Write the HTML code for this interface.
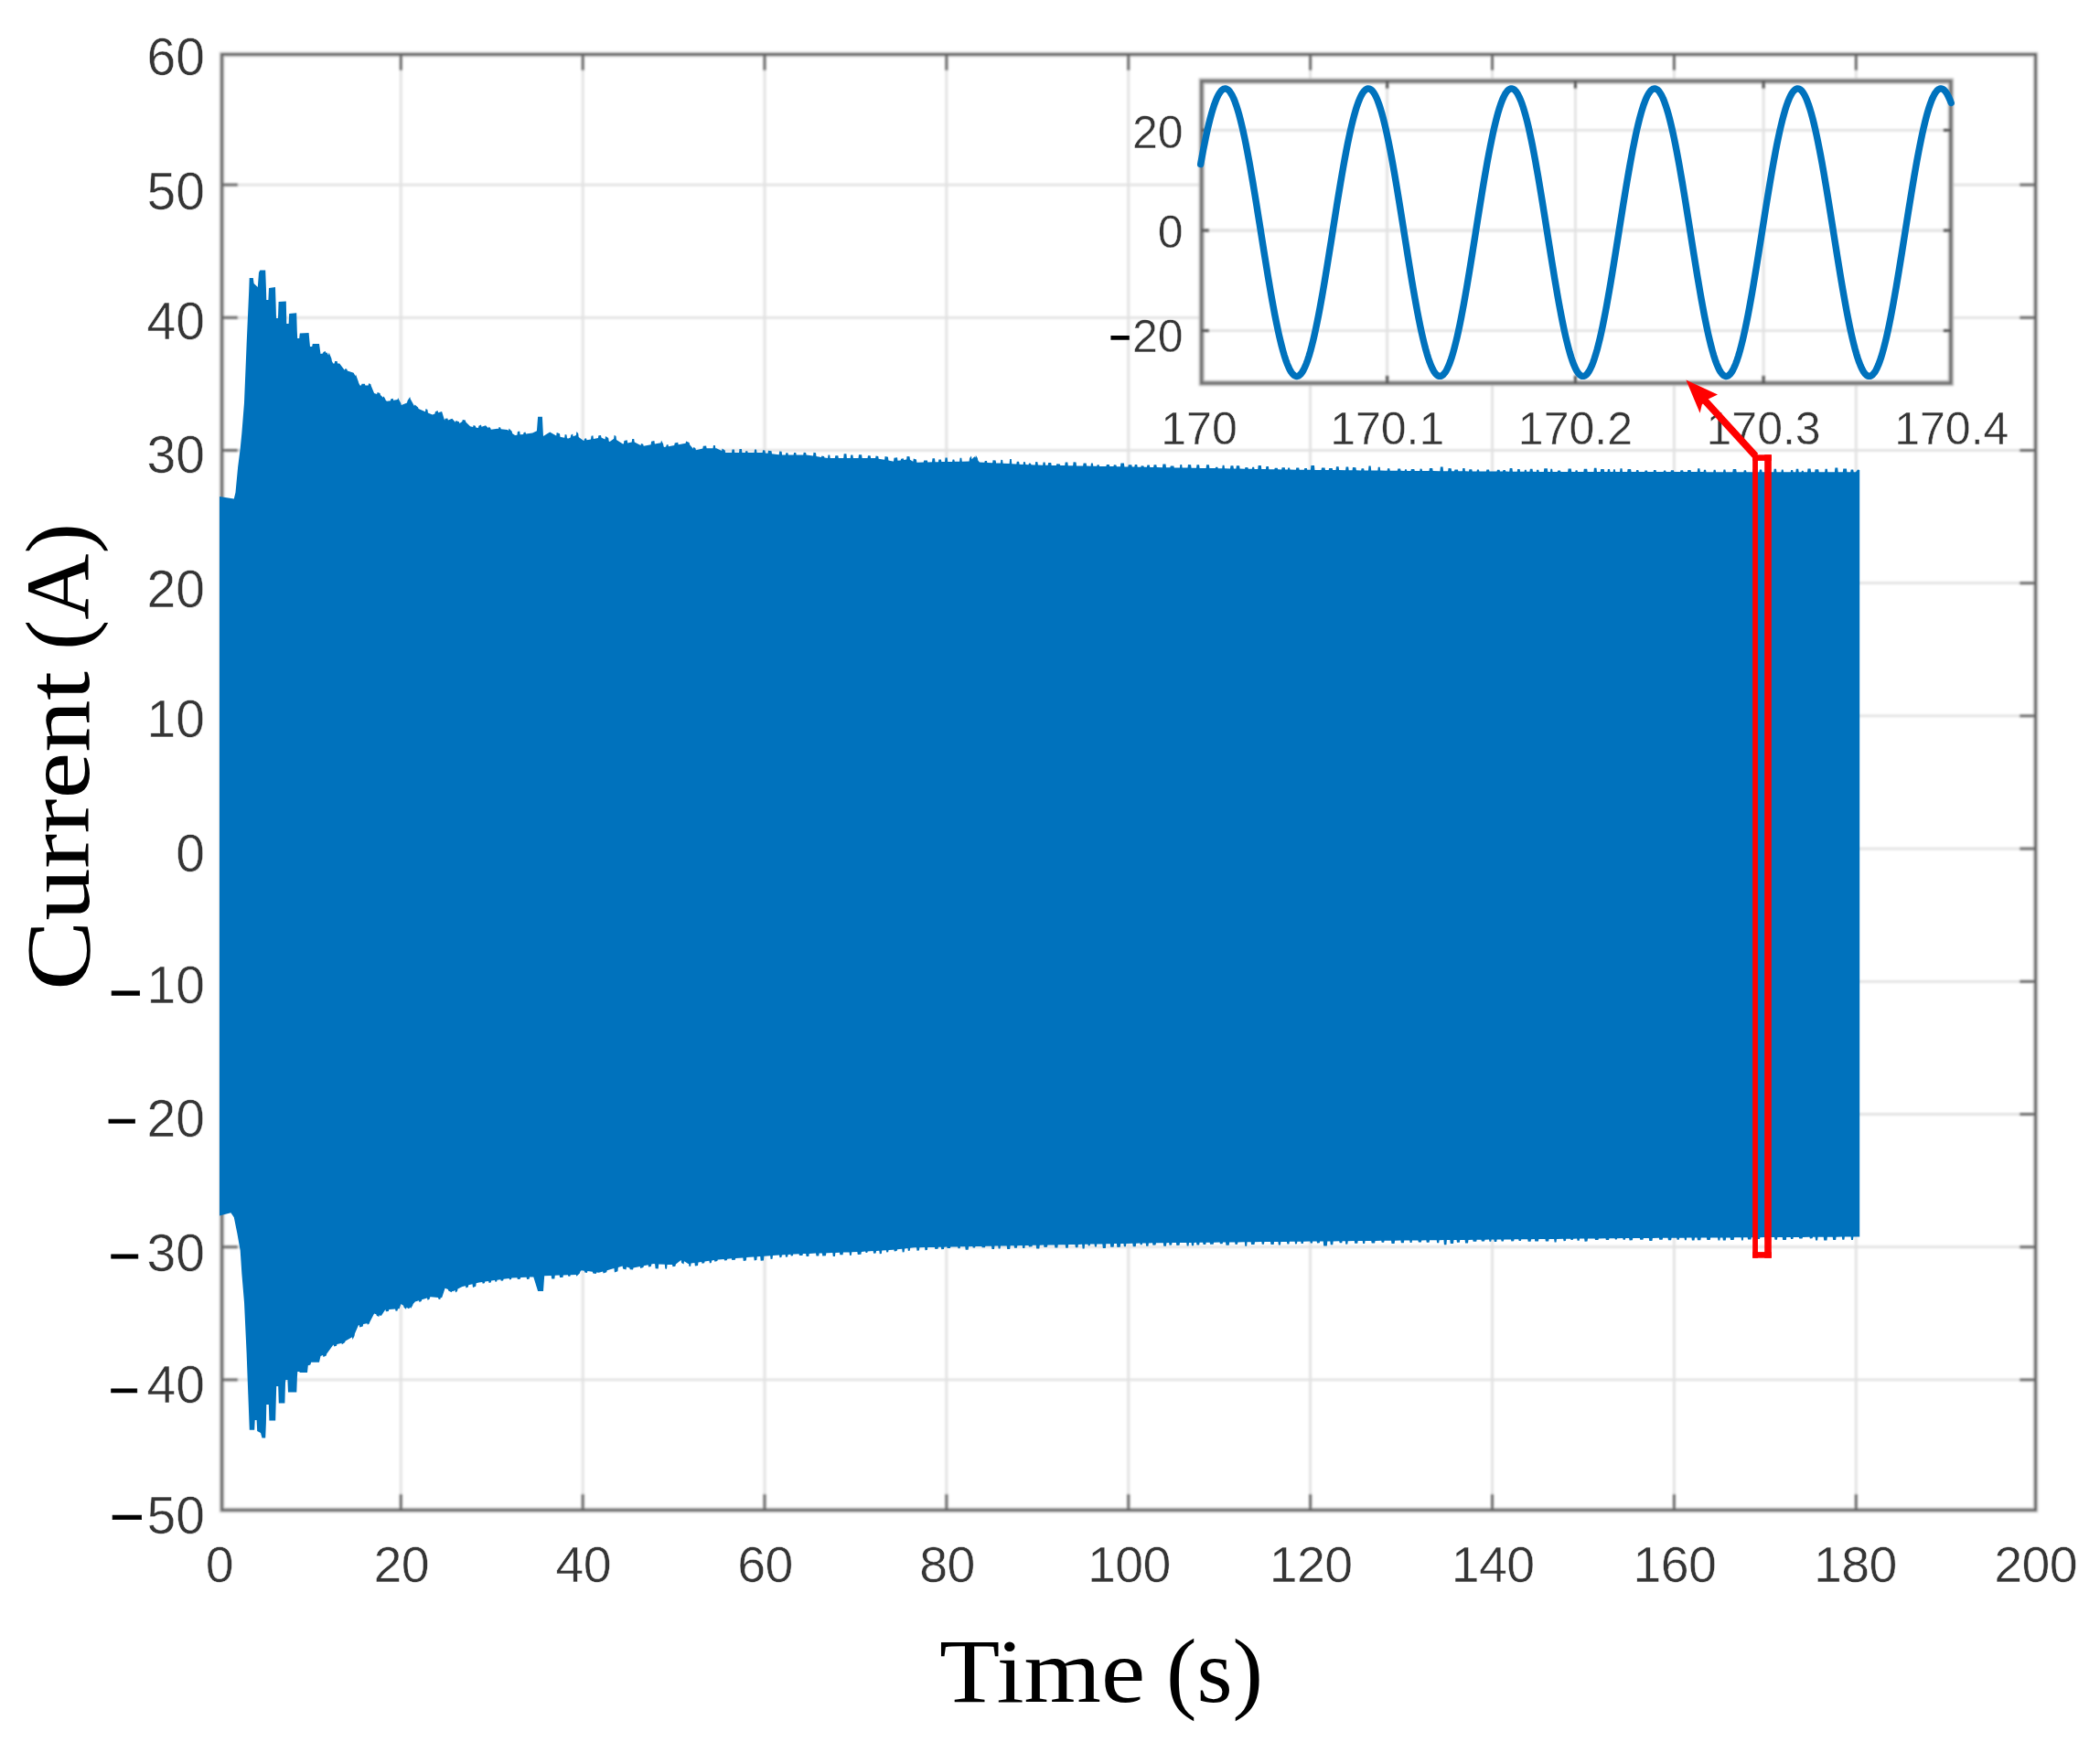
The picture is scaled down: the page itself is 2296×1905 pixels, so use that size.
<!DOCTYPE html>
<html lang="en"><head><meta charset="utf-8"><title>Current vs Time</title>
<style>
html,body{margin:0;padding:0;background:#fff;}
body{width:2296px;height:1905px;overflow:hidden;}
svg{display:block;}
.tl{font-family:"Liberation Sans",Arial,Helvetica,sans-serif;font-size:55.5px;letter-spacing:-0.6px;fill:#363636;stroke:#fff;stroke-width:0.5px;}
.ty{font-size:57px;letter-spacing:0;}
.il{font-family:"Liberation Sans",Arial,Helvetica,sans-serif;font-size:50px;fill:#363636;stroke:#fff;stroke-width:0.45px;}
.mn{font-family:"Liberation Sans",Arial,Helvetica,sans-serif;font-weight:normal;fill:#000;stroke:#000;stroke-width:0.7px;letter-spacing:0;}
.ax{font-family:"Liberation Serif","Times New Roman",serif;font-size:100px;fill:#000;}
</style></head><body>
<svg width="2296" height="1905" viewBox="0 0 2296 1905">
<defs><filter id="soft" x="-2%" y="-2%" width="104%" height="104%"><feGaussianBlur stdDeviation="0.9"/></filter><filter id="soft2" x="-2%" y="-2%" width="104%" height="104%"><feGaussianBlur stdDeviation="0.7"/></filter><filter id="softt" x="-5%" y="-5%" width="110%" height="110%"><feGaussianBlur stdDeviation="0.65"/></filter></defs>
<rect width="2296" height="1905" fill="#fff"/>
<g filter="url(#soft)">
<g stroke="#e2e2e2" stroke-width="2.8" fill="none">
<line x1="438.3" y1="59.5" x2="438.3" y2="1651.4"/>
<line x1="637.2" y1="59.5" x2="637.2" y2="1651.4"/>
<line x1="836.0" y1="59.5" x2="836.0" y2="1651.4"/>
<line x1="1034.9" y1="59.5" x2="1034.9" y2="1651.4"/>
<line x1="1233.8" y1="59.5" x2="1233.8" y2="1651.4"/>
<line x1="1432.7" y1="59.5" x2="1432.7" y2="1651.4"/>
<line x1="1631.6" y1="59.5" x2="1631.6" y2="1651.4"/>
<line x1="1830.4" y1="59.5" x2="1830.4" y2="1651.4"/>
<line x1="2029.3" y1="59.5" x2="2029.3" y2="1651.4"/>
<line x1="242.6" y1="1508.9" x2="2225.6" y2="1508.9"/>
<line x1="242.6" y1="1363.7" x2="2225.6" y2="1363.7"/>
<line x1="242.6" y1="1218.5" x2="2225.6" y2="1218.5"/>
<line x1="242.6" y1="1073.3" x2="2225.6" y2="1073.3"/>
<line x1="242.6" y1="928.1" x2="2225.6" y2="928.1"/>
<line x1="242.6" y1="782.9" x2="2225.6" y2="782.9"/>
<line x1="242.6" y1="637.7" x2="2225.6" y2="637.7"/>
<line x1="242.6" y1="492.5" x2="2225.6" y2="492.5"/>
<line x1="242.6" y1="347.3" x2="2225.6" y2="347.3"/>
<line x1="242.6" y1="202.1" x2="2225.6" y2="202.1"/>
</g>
<rect x="242.6" y="59.5" width="1983.0" height="1591.9" fill="none" stroke="#cfcfcf" stroke-width="5.6"/>
<rect x="242.6" y="59.5" width="1983.0" height="1591.9" fill="none" stroke="#5e5e5e" stroke-width="2.9"/>
<g stroke="#666" stroke-width="2.9" fill="none">
<line x1="438.3" y1="1651.4" x2="438.3" y2="1633.9"/>
<line x1="438.3" y1="59.5" x2="438.3" y2="77.0"/>
<line x1="637.2" y1="1651.4" x2="637.2" y2="1633.9"/>
<line x1="637.2" y1="59.5" x2="637.2" y2="77.0"/>
<line x1="836.0" y1="1651.4" x2="836.0" y2="1633.9"/>
<line x1="836.0" y1="59.5" x2="836.0" y2="77.0"/>
<line x1="1034.9" y1="1651.4" x2="1034.9" y2="1633.9"/>
<line x1="1034.9" y1="59.5" x2="1034.9" y2="77.0"/>
<line x1="1233.8" y1="1651.4" x2="1233.8" y2="1633.9"/>
<line x1="1233.8" y1="59.5" x2="1233.8" y2="77.0"/>
<line x1="1432.7" y1="1651.4" x2="1432.7" y2="1633.9"/>
<line x1="1432.7" y1="59.5" x2="1432.7" y2="77.0"/>
<line x1="1631.6" y1="1651.4" x2="1631.6" y2="1633.9"/>
<line x1="1631.6" y1="59.5" x2="1631.6" y2="77.0"/>
<line x1="1830.4" y1="1651.4" x2="1830.4" y2="1633.9"/>
<line x1="1830.4" y1="59.5" x2="1830.4" y2="77.0"/>
<line x1="2029.3" y1="1651.4" x2="2029.3" y2="1633.9"/>
<line x1="2029.3" y1="59.5" x2="2029.3" y2="77.0"/>
<line x1="242.6" y1="1508.9" x2="260.1" y2="1508.9"/>
<line x1="2225.6" y1="1508.9" x2="2208.1" y2="1508.9"/>
<line x1="242.6" y1="1363.7" x2="260.1" y2="1363.7"/>
<line x1="2225.6" y1="1363.7" x2="2208.1" y2="1363.7"/>
<line x1="242.6" y1="1218.5" x2="260.1" y2="1218.5"/>
<line x1="2225.6" y1="1218.5" x2="2208.1" y2="1218.5"/>
<line x1="242.6" y1="1073.3" x2="260.1" y2="1073.3"/>
<line x1="2225.6" y1="1073.3" x2="2208.1" y2="1073.3"/>
<line x1="242.6" y1="928.1" x2="260.1" y2="928.1"/>
<line x1="2225.6" y1="928.1" x2="2208.1" y2="928.1"/>
<line x1="242.6" y1="782.9" x2="260.1" y2="782.9"/>
<line x1="2225.6" y1="782.9" x2="2208.1" y2="782.9"/>
<line x1="242.6" y1="637.7" x2="260.1" y2="637.7"/>
<line x1="2225.6" y1="637.7" x2="2208.1" y2="637.7"/>
<line x1="242.6" y1="492.5" x2="260.1" y2="492.5"/>
<line x1="2225.6" y1="492.5" x2="2208.1" y2="492.5"/>
<line x1="242.6" y1="347.3" x2="260.1" y2="347.3"/>
<line x1="2225.6" y1="347.3" x2="2208.1" y2="347.3"/>
<line x1="242.6" y1="202.1" x2="260.1" y2="202.1"/>
<line x1="2225.6" y1="202.1" x2="2208.1" y2="202.1"/>
</g>
</g>
<polygon points="240.0,543.0 255.8,545.5 257.5,538.6 260.1,511.0 262.7,490.4 264.4,473.2 267.0,440.5 269.6,376.8 272.2,318.2 272.7,304.0 276.8,304.0 277.6,310.0 281.8,314.0 283.0,298.0 284.3,295.5 290.2,295.5 290.9,314.0 291.3,328.0 293.4,328.0 294.0,315.0 301.0,314.0 301.6,333.0 302.0,348.0 304.0,348.0 304.6,330.0 312.8,329.4 313.3,354.0 315.6,354.0 316.2,343.0 324.2,342.3 324.8,362.0 325.2,370.0 327.2,370.0 327.8,364.5 337.6,364.0 338.4,373.0 339.0,379.0 341.2,379.0 341.8,376.0 349.0,376.0 350.5,387.1 353.0,386.5 353.5,384.9 355.7,384.1 356.2,385.7 357.4,385.4 359.2,388.6 359.7,385.6 362.4,392.0 362.9,394.9 364.3,397.4 365.6,397.4 366.1,394.9 368.6,394.9 369.1,397.4 371.2,397.4 376.4,404.3 377.0,404.5 377.5,402.9 379.3,403.8 379.8,405.5 386.7,407.8 388.5,411.3 389.0,409.5 391.7,417.0 392.2,418.8 393.6,421.5 395.0,421.5 395.5,419.8 398.9,419.8 399.4,421.5 402.6,421.5 403.1,419.3 405.3,419.9 405.8,422.1 409.1,430.1 412.1,430.9 412.6,429.1 415.5,430.1 416.0,431.9 418.9,434.8 419.4,433.2 421.1,435.9 421.6,437.5 422.9,438.8 426.9,438.2 427.4,436.2 429.6,435.7 430.1,437.7 434.6,437.0 435.1,434.9 438.3,440.9 438.8,443.0 445.0,440.6 445.5,438.3 448.2,434.0 448.7,436.3 453.0,444.0 453.5,442.5 457.1,445.6 457.6,447.1 465.0,450.2 465.5,446.9 467.4,448.1 467.9,451.4 472.8,453.4 475.4,452.5 475.9,450.3 478.6,449.0 479.1,451.3 483.1,450.0 486.1,459.7 486.6,457.7 489.4,457.6 489.9,459.6 494.3,457.7 497.9,461.8 498.4,459.9 501.9,461.2 502.4,463.1 505.3,460.9 505.8,458.9 508.8,459.4 509.3,461.4 514.1,466.3 517.1,466.9 517.6,465.1 519.8,465.7 520.3,467.5 522.9,467.9 523.4,465.8 526.0,464.6 526.5,466.7 531.0,465.2 534.0,468.2 534.5,466.6 536.3,468.2 536.8,469.8 544.0,468.8 545.0,468.9 545.5,467.1 547.2,467.4 547.7,469.2 554.8,470.0 556.0,470.9 556.5,468.6 559.7,471.7 560.2,473.9 563.1,476.0 565.4,475.7 565.9,472.0 568.2,471.6 568.7,475.3 572.1,474.9 572.6,472.9 574.5,472.5 575.0,474.5 582.1,473.6 586.9,471.2 588.1,455.7 592.9,455.7 594.0,477.1 601.2,472.4 608.2,476.4 608.7,472.9 612.0,474.2 612.5,477.7 617.2,478.7 617.7,475.0 619.5,475.6 620.0,479.2 621.4,479.5 623.7,478.5 624.2,475.8 626.1,474.5 626.6,477.3 629.9,476.1 630.4,472.1 632.2,474.1 632.7,478.1 638.1,481.9 638.6,481.8 639.1,479.7 641.0,479.2 641.5,481.3 646.0,480.4 646.5,476.8 648.4,476.3 648.9,479.9 653.9,478.9 654.4,476.3 657.0,475.9 657.5,478.5 661.5,480.5 662.0,476.9 665.2,479.1 665.7,482.6 666.7,483.1 671.1,479.7 671.6,475.7 673.5,477.1 674.0,481.1 681.0,485.5 681.9,485.3 682.4,482.1 685.7,481.2 686.2,484.4 690.7,483.5 691.2,480.1 693.2,480.1 693.7,483.5 700.5,486.9 701.0,484.9 703.2,485.7 703.7,487.7 711.6,486.3 712.1,482.8 715.4,482.0 715.9,485.5 722.5,484.3 723.0,481.6 725.1,485.4 725.6,488.2 726.2,489.0 728.2,488.6 728.7,486.5 730.4,486.0 730.9,488.2 737.2,487.0 737.7,484.5 741.2,483.7 741.7,486.2 749.6,484.8 750.1,482.4 753.6,484.0 754.1,486.3 757.9,490.7 758.4,488.8 760.4,490.3 760.9,492.2 768.3,490.4 768.8,487.7 772.1,487.6 772.6,490.2 779.5,490.2 780.0,487.1 781.8,487.1 782.3,490.2 783.3,490.2 789.1,493.1 789.6,490.5 792.7,492.4 793.2,495.0 800.0,495.0 800.5,491.5 802.8,491.5 803.3,495.0 808.0,495.0 808.5,491.1 810.9,491.1 811.4,495.0 814.8,495.0 815.3,493.2 817.2,493.2 817.7,495.0 824.6,495.0 825.1,491.5 827.0,491.5 827.5,495.0 833.3,495.0 833.6,495.0 834.1,492.2 836.4,492.6 836.9,495.5 839.5,495.8 840.0,492.7 843.5,493.3 844.0,496.3 851.7,497.3 852.2,493.6 854.6,493.7 855.1,497.4 858.8,497.4 859.3,495.2 861.4,495.2 861.9,497.4 867.6,497.4 868.1,494.9 870.2,494.9 870.7,497.4 878.2,497.4 878.7,494.8 881.1,494.9 881.6,497.5 889.0,498.6 889.5,494.8 892.0,495.3 892.5,499.1 897.9,500.0 898.4,498.5 901.0,499.1 901.5,500.5 905.0,501.0 905.5,497.5 907.2,497.5 907.7,501.0 912.8,501.0 913.3,498.2 916.3,498.2 916.8,501.0 922.2,501.0 922.7,496.3 925.4,496.3 925.9,501.0 929.7,501.0 930.2,497.6 932.4,497.6 932.9,501.0 938.5,501.0 939.0,497.2 942.1,497.2 942.6,501.0 948.5,501.0 949.0,498.3 951.6,498.3 952.1,501.0 957.1,501.0 957.6,498.4 960.2,499.0 960.7,501.7 967.1,502.8 967.6,499.0 970.9,499.8 971.4,503.6 976.2,504.5 977.0,504.4 977.5,500.8 981.0,500.2 981.5,503.8 984.7,503.4 985.2,501.8 987.7,501.3 988.2,502.9 991.1,502.5 991.6,499.1 994.5,499.3 995.0,502.7 998.3,504.7 998.8,501.6 1001.9,502.5 1002.4,505.7 1009.7,505.5 1010.2,503.5 1013.8,503.4 1014.3,505.4 1019.0,505.3 1019.5,501.3 1022.0,501.3 1022.5,505.2 1025.9,505.2 1026.4,502.4 1028.9,502.4 1029.4,505.1 1033.0,505.0 1033.5,500.5 1035.7,500.5 1036.2,505.0 1041.1,504.9 1041.6,502.6 1043.3,502.6 1043.8,504.8 1049.1,504.7 1049.6,500.8 1051.3,500.7 1051.8,504.7 1059.6,504.5 1060.1,500.9 1062.0,498.6 1062.5,502.2 1065.5,499.3 1066.4,500.4 1066.9,497.9 1068.8,501.1 1069.3,503.6 1071.0,505.5 1076.3,505.8 1076.8,504.0 1078.9,504.1 1079.4,505.9 1085.1,506.2 1085.6,503.2 1088.6,503.4 1089.1,506.4 1093.9,506.6 1094.4,502.8 1096.1,502.9 1096.6,506.8 1103.6,507.1 1104.1,501.9 1105.8,502.0 1106.3,507.3 1111.3,507.5 1111.8,504.7 1114.1,504.8 1114.6,507.7 1118.6,507.9 1119.1,505.1 1120.9,505.3 1121.4,508.0 1124.5,508.2 1125.0,506.6 1127.0,506.8 1127.5,508.3 1131.0,508.5 1131.7,508.5 1132.2,505.1 1134.4,505.2 1134.9,508.6 1140.1,508.7 1140.6,505.5 1142.6,505.6 1143.1,508.7 1145.7,508.8 1146.2,505.9 1149.2,506.0 1149.7,508.9 1154.8,509.0 1155.3,507.3 1158.8,507.4 1159.3,509.0 1164.2,509.1 1164.7,505.6 1167.3,505.6 1167.8,509.2 1173.1,509.3 1173.6,505.3 1176.5,505.4 1177.0,509.4 1184.1,509.5 1184.6,506.5 1187.6,506.5 1188.1,509.6 1192.5,509.7 1193.0,506.5 1194.8,506.5 1195.3,509.7 1199.2,509.8 1199.7,508.2 1201.6,508.2 1202.1,509.9 1209.4,510.0 1209.9,507.9 1212.8,507.9 1213.3,510.1 1217.4,510.1 1217.9,508.3 1220.4,508.4 1220.9,510.2 1224.9,510.3 1225.4,506.4 1228.9,506.4 1229.4,510.4 1233.3,510.5 1233.8,508.2 1237.3,508.3 1237.8,510.5 1240.3,510.6 1240.8,508.0 1243.2,508.0 1243.7,510.7 1247.3,510.7 1247.8,509.3 1250.4,509.4 1250.9,510.8 1253.9,510.8 1254.4,508.4 1256.8,508.5 1257.3,510.9 1261.1,511.0 1261.6,508.2 1264.3,508.3 1264.8,511.0 1270.9,511.2 1271.4,507.5 1274.5,507.5 1275.0,511.2 1279.3,511.3 1279.8,509.5 1283.3,509.6 1283.8,511.4 1289.9,511.5 1290.4,507.9 1292.1,508.0 1292.6,511.5 1298.5,511.6 1299.0,508.1 1302.1,508.2 1302.6,511.7 1308.0,511.8 1308.5,508.2 1311.1,508.3 1311.6,511.9 1318.6,512.0 1319.1,508.3 1321.9,508.3 1322.4,512.0 1328.7,512.1 1329.2,510.7 1331.3,510.7 1331.8,512.2 1336.2,512.3 1336.7,508.7 1338.5,508.8 1339.0,512.3 1345.0,512.4 1345.5,509.3 1348.4,509.3 1348.9,512.5 1351.4,512.5 1351.9,509.2 1355.1,509.3 1355.6,512.6 1361.0,512.7 1361.5,511.1 1364.4,511.2 1364.9,512.8 1368.8,512.8 1369.3,510.7 1371.1,510.8 1371.6,512.9 1375.2,512.9 1375.7,509.0 1378.8,509.1 1379.3,513.0 1383.9,513.1 1384.4,509.9 1386.9,510.0 1387.4,513.2 1393.3,513.3 1393.8,511.7 1396.7,511.7 1397.2,513.3 1401.1,513.4 1401.6,511.2 1404.7,511.3 1405.2,513.5 1407.8,513.5 1408.3,511.4 1410.0,511.5 1410.5,513.6 1416.8,513.7 1417.3,511.5 1420.2,511.6 1420.7,513.7 1425.8,513.8 1426.3,512.1 1428.8,512.1 1429.3,513.8 1432.9,513.8 1433.4,508.9 1437.0,509.0 1437.5,513.9 1444.5,514.0 1445.0,511.4 1448.5,511.4 1449.0,514.0 1452.7,514.0 1453.2,512.1 1456.7,512.1 1457.2,514.1 1460.5,514.1 1461.0,510.2 1463.6,510.3 1464.1,514.1 1471.1,514.2 1471.6,510.5 1474.2,510.5 1474.7,514.3 1478.5,514.3 1479.0,511.1 1482.4,511.2 1482.9,514.3 1488.1,514.4 1488.6,512.2 1491.1,512.2 1491.6,514.4 1496.0,514.5 1496.5,509.4 1498.7,509.4 1499.2,514.5 1506.3,514.6 1506.8,510.8 1508.7,510.8 1509.2,514.6 1516.6,514.7 1517.1,512.3 1519.3,512.3 1519.8,514.7 1527.8,514.8 1528.3,512.4 1531.1,512.5 1531.6,514.8 1535.6,514.9 1536.1,513.2 1537.8,513.2 1538.3,514.9 1542.4,514.9 1542.9,512.9 1546.3,512.9 1546.8,515.0 1550.0,515.0 1552.2,515.0 1552.7,512.6 1554.6,512.7 1555.1,515.0 1562.5,515.1 1563.0,512.0 1566.2,512.1 1566.7,515.1 1574.4,515.2 1574.9,510.4 1577.6,510.5 1578.1,515.2 1583.1,515.2 1583.6,512.1 1586.7,512.2 1587.2,515.2 1590.0,515.3 1590.5,513.5 1593.9,513.6 1594.4,515.3 1598.8,515.3 1599.3,512.0 1601.5,512.0 1602.0,515.3 1605.9,515.4 1606.4,513.2 1609.3,513.2 1609.8,515.4 1614.5,515.4 1615.0,513.6 1616.9,513.6 1617.4,515.4 1624.9,515.5 1625.4,513.5 1628.0,513.6 1628.5,515.5 1636.5,515.6 1637.0,513.8 1639.5,513.8 1640.0,515.6 1643.0,515.6 1643.5,514.0 1645.8,514.0 1646.3,515.6 1650.2,515.7 1650.7,512.0 1653.4,512.0 1653.9,515.7 1658.7,515.7 1659.2,513.0 1661.6,513.0 1662.1,515.7 1666.5,515.8 1667.0,513.7 1668.7,513.7 1669.2,515.8 1672.4,515.8 1672.9,512.8 1675.5,512.8 1676.0,515.8 1679.7,515.9 1680.2,513.8 1682.3,513.8 1682.8,515.9 1687.8,515.9 1688.3,512.3 1691.8,512.3 1692.3,515.9 1694.9,516.0 1695.4,512.7 1697.1,512.7 1697.6,516.0 1700.0,516.0 1702.7,516.0 1703.2,514.6 1706.0,514.6 1706.5,516.0 1714.1,516.0 1714.6,512.4 1717.8,512.4 1718.3,516.0 1722.2,516.0 1722.7,514.2 1724.5,514.2 1725.0,516.0 1731.3,516.0 1731.8,512.8 1735.2,512.8 1735.7,516.0 1742.4,516.0 1742.9,511.7 1745.5,511.7 1746.0,516.0 1749.7,516.0 1750.2,513.0 1753.7,513.0 1754.2,516.0 1757.4,516.1 1757.9,513.0 1760.0,513.0 1760.5,516.1 1763.6,516.1 1764.1,513.3 1765.8,513.3 1766.3,516.1 1771.0,516.1 1771.5,512.2 1773.5,512.2 1774.0,516.1 1779.1,516.1 1779.6,513.0 1783.1,513.0 1783.6,516.1 1788.7,516.1 1789.2,514.0 1791.3,514.0 1791.8,516.1 1798.1,516.1 1798.6,514.6 1800.9,514.6 1801.4,516.1 1807.6,516.1 1808.1,514.0 1810.5,514.0 1811.0,516.1 1818.6,516.1 1819.1,514.6 1821.1,514.6 1821.6,516.1 1826.5,516.1 1827.0,514.2 1829.9,514.2 1830.4,516.1 1837.0,516.1 1837.5,514.2 1840.1,514.2 1840.6,516.1 1844.8,516.1 1845.3,514.1 1848.5,514.1 1849.0,516.1 1855.7,516.1 1856.2,512.3 1858.4,512.3 1858.9,516.1 1862.5,516.1 1863.0,513.7 1865.0,513.7 1865.5,516.2 1873.2,516.2 1873.7,513.7 1875.6,513.7 1876.1,516.2 1884.0,516.2 1884.5,513.6 1886.4,513.6 1886.9,516.2 1894.3,516.2 1894.8,512.9 1898.2,512.9 1898.7,516.2 1906.3,516.2 1906.8,514.3 1909.0,514.3 1909.5,516.2 1916.1,516.2 1916.6,513.1 1918.3,513.1 1918.8,516.2 1923.4,516.2 1923.9,513.5 1926.1,513.5 1926.6,516.2 1931.1,516.2 1931.6,514.5 1935.1,514.5 1935.6,516.2 1939.2,516.2 1939.7,512.7 1942.0,512.7 1942.5,516.2 1947.4,516.2 1947.9,513.6 1949.6,513.6 1950.1,516.2 1957.7,516.2 1958.2,513.9 1960.1,513.9 1960.6,516.2 1963.3,516.2 1963.8,512.7 1966.2,512.7 1966.7,516.2 1969.5,516.2 1970.0,514.7 1971.6,514.7 1972.1,516.2 1976.0,516.3 1976.5,512.5 1979.6,512.5 1980.1,516.3 1984.1,516.3 1984.6,513.3 1988.2,513.3 1988.7,516.3 1995.1,516.3 1995.6,512.7 1997.8,512.7 1998.3,516.3 2005.9,516.3 2006.4,511.6 2009.2,511.6 2009.7,516.3 2014.8,516.3 2015.3,512.4 2018.9,512.4 2019.4,516.3 2023.2,516.3 2023.7,513.6 2026.2,513.6 2026.7,516.3 2029.0,516.3 2031.0,513.5 2033.2,514.0 2033.2,1352.5 2026.4,1352.5 2025.9,1355.9 2024.1,1355.9 2023.6,1352.6 2016.9,1352.6 2016.4,1355.7 2014.3,1355.8 2013.8,1352.6 2007.6,1352.7 2007.1,1355.9 2004.2,1355.9 2003.7,1352.7 1997.9,1352.7 1997.4,1356.5 1994.2,1356.5 1993.7,1352.7 1987.6,1352.8 1987.1,1356.6 1985.1,1356.6 1984.6,1352.8 1982.0,1352.8 1981.5,1354.3 1978.9,1354.4 1978.4,1352.8 1971.0,1352.9 1970.5,1354.4 1967.3,1354.4 1966.8,1352.9 1960.8,1352.9 1960.3,1355.1 1958.1,1355.1 1957.6,1353.0 1953.3,1353.0 1952.8,1356.1 1949.2,1356.1 1948.7,1353.0 1943.4,1353.0 1942.9,1355.8 1940.5,1355.8 1940.0,1353.1 1933.0,1353.1 1932.5,1356.7 1929.8,1356.7 1929.3,1353.1 1924.4,1353.2 1923.9,1355.1 1920.8,1355.1 1920.3,1353.2 1914.9,1353.2 1914.4,1355.6 1911.1,1355.6 1910.6,1353.2 1906.2,1353.3 1905.7,1356.5 1904.1,1356.6 1903.6,1353.3 1896.1,1353.3 1895.6,1356.1 1892.1,1356.1 1891.6,1353.4 1887.2,1353.4 1886.7,1356.6 1883.9,1356.6 1883.4,1353.4 1880.8,1353.4 1880.3,1356.5 1878.5,1356.5 1878.0,1353.4 1870.2,1353.5 1869.7,1355.9 1866.4,1355.9 1865.9,1353.5 1859.8,1353.6 1859.3,1356.2 1856.0,1356.2 1855.5,1353.6 1853.0,1353.6 1852.5,1356.4 1849.9,1356.4 1849.4,1353.6 1844.2,1353.6 1843.7,1356.3 1842.0,1356.3 1841.5,1353.7 1836.2,1353.7 1835.7,1355.7 1833.6,1355.7 1833.1,1353.7 1827.6,1353.7 1827.1,1356.3 1824.0,1356.3 1823.5,1353.8 1818.1,1353.8 1817.6,1355.7 1814.3,1355.7 1813.8,1353.8 1806.9,1353.9 1806.4,1357.0 1803.3,1357.0 1802.8,1353.9 1796.9,1353.9 1796.4,1355.8 1793.3,1355.8 1792.8,1354.0 1786.0,1354.0 1785.3,1354.0 1784.8,1356.3 1781.6,1356.4 1781.1,1354.1 1777.3,1354.1 1776.8,1355.8 1774.7,1355.8 1774.2,1354.1 1768.1,1354.2 1767.6,1355.6 1766.0,1355.6 1765.5,1354.2 1759.5,1354.3 1759.0,1356.0 1755.9,1356.1 1755.4,1354.3 1747.9,1354.4 1747.4,1355.9 1744.1,1356.0 1743.6,1354.4 1736.0,1354.5 1735.5,1357.6 1732.6,1357.7 1732.1,1354.6 1727.2,1354.6 1726.7,1356.8 1724.6,1356.8 1724.1,1354.6 1720.1,1354.7 1719.6,1356.1 1717.6,1356.1 1717.1,1354.7 1712.3,1354.8 1711.8,1357.1 1709.6,1357.2 1709.1,1354.8 1702.0,1354.9 1701.5,1358.4 1699.6,1358.5 1699.1,1354.9 1693.6,1355.0 1693.1,1357.6 1689.9,1357.6 1689.4,1355.0 1682.4,1355.1 1681.9,1357.4 1678.3,1357.4 1677.8,1355.1 1674.1,1355.2 1673.6,1357.8 1670.7,1357.8 1670.2,1355.2 1663.3,1355.3 1662.8,1357.0 1660.7,1357.0 1660.2,1355.3 1655.6,1355.3 1655.1,1357.3 1652.4,1357.4 1651.9,1355.4 1644.3,1355.5 1643.8,1357.4 1641.6,1357.5 1641.1,1355.5 1636.7,1355.5 1636.2,1358.0 1633.8,1358.1 1633.3,1355.6 1630.7,1355.6 1630.2,1357.7 1628.5,1357.7 1628.0,1355.6 1623.5,1355.7 1623.0,1357.4 1619.9,1357.4 1619.4,1355.7 1614.7,1355.8 1614.2,1357.7 1610.7,1357.8 1610.2,1355.8 1605.5,1355.9 1605.0,1359.4 1602.1,1359.5 1601.6,1355.9 1596.3,1356.0 1595.8,1358.8 1593.0,1358.8 1592.5,1356.0 1589.5,1356.0 1589.0,1359.9 1585.8,1359.9 1585.3,1356.1 1581.9,1356.1 1581.4,1361.2 1578.9,1361.3 1578.4,1356.1 1573.7,1356.2 1573.2,1359.3 1571.2,1359.3 1570.7,1356.2 1563.1,1356.3 1562.6,1358.8 1559.8,1358.8 1559.3,1356.3 1554.3,1356.4 1553.8,1358.4 1550.9,1358.5 1550.4,1356.4 1544.0,1356.5 1543.5,1359.0 1541.7,1359.0 1541.2,1356.5 1535.3,1356.6 1534.8,1359.2 1531.9,1359.2 1531.4,1356.6 1525.1,1356.7 1524.6,1359.9 1521.5,1360.0 1521.0,1356.7 1513.6,1356.8 1513.1,1358.8 1510.7,1358.8 1510.2,1356.8 1503.6,1356.9 1503.1,1359.4 1499.7,1359.5 1499.2,1356.9 1492.6,1357.0 1492.1,1360.0 1490.2,1360.0 1489.7,1357.0 1484.7,1357.1 1484.2,1359.8 1481.2,1359.8 1480.7,1357.1 1473.8,1357.2 1473.3,1360.6 1471.3,1360.7 1470.8,1357.2 1467.7,1357.3 1467.2,1359.2 1464.7,1359.2 1464.2,1357.3 1457.7,1357.4 1457.2,1361.3 1454.8,1361.3 1454.3,1357.4 1451.3,1357.4 1450.8,1362.5 1447.2,1362.5 1446.7,1357.5 1443.2,1357.5 1442.7,1359.3 1440.1,1359.4 1439.6,1357.5 1435.3,1357.6 1434.8,1359.4 1432.8,1359.4 1432.3,1357.6 1425.2,1357.7 1424.7,1359.9 1422.7,1359.9 1422.2,1357.7 1418.4,1357.7 1417.9,1360.3 1416.1,1360.4 1415.6,1357.8 1409.9,1357.8 1409.4,1360.4 1407.4,1360.4 1406.9,1357.9 1400.4,1357.9 1399.9,1361.5 1397.9,1361.5 1397.4,1358.0 1393.1,1358.0 1392.6,1361.1 1389.5,1361.1 1389.0,1358.0 1382.4,1358.1 1381.9,1360.7 1379.8,1360.7 1379.3,1358.1 1372.0,1358.2 1371.5,1360.9 1368.1,1361.0 1367.6,1358.3 1363.6,1358.3 1363.1,1362.8 1361.3,1362.8 1360.8,1358.3 1353.4,1358.4 1352.9,1360.8 1350.6,1360.9 1350.1,1358.4 1344.2,1358.5 1343.7,1361.7 1340.5,1361.7 1340.0,1358.5 1337.1,1358.6 1336.6,1360.2 1334.0,1360.3 1333.5,1358.6 1327.1,1358.7 1326.6,1360.8 1323.1,1360.8 1322.6,1358.7 1318.7,1358.7 1318.2,1361.0 1315.6,1361.1 1315.1,1358.8 1311.6,1358.8 1311.1,1361.5 1308.5,1361.5 1308.0,1358.8 1305.5,1358.9 1305.0,1362.3 1303.0,1362.3 1302.5,1358.9 1300.0,1358.9 1299.5,1362.5 1297.7,1362.5 1297.2,1359.0 1290.0,1359.0 1289.5,1361.8 1286.4,1361.9 1285.9,1359.1 1281.5,1359.1 1281.0,1361.6 1278.6,1361.7 1278.1,1359.1 1275.4,1359.2 1274.9,1362.8 1272.3,1362.8 1271.8,1359.2 1264.0,1359.3 1263.5,1361.6 1260.5,1361.7 1260.0,1359.3 1255.9,1359.4 1255.4,1362.8 1253.2,1362.8 1252.7,1359.5 1249.1,1359.5 1248.6,1361.2 1246.8,1361.3 1246.3,1359.6 1242.2,1359.7 1241.7,1363.2 1238.8,1363.3 1238.3,1359.8 1231.4,1359.9 1230.9,1363.2 1228.9,1363.2 1228.4,1359.9 1225.3,1360.0 1224.8,1363.8 1221.4,1363.9 1220.9,1360.1 1218.1,1360.1 1217.6,1363.7 1214.3,1363.8 1213.8,1360.2 1209.3,1360.3 1208.8,1364.9 1205.8,1365.0 1205.3,1360.4 1199.3,1360.5 1198.8,1363.4 1197.0,1363.4 1196.5,1360.6 1192.1,1360.6 1191.6,1362.3 1189.9,1362.4 1189.4,1360.7 1186.1,1360.7 1185.6,1365.5 1183.6,1365.5 1183.1,1360.8 1178.9,1360.9 1178.4,1364.2 1175.9,1364.2 1175.4,1361.0 1168.2,1361.1 1167.7,1364.7 1165.2,1364.7 1164.7,1361.2 1156.8,1361.3 1156.3,1364.5 1153.4,1364.6 1152.9,1361.4 1145.4,1361.5 1144.9,1363.8 1141.6,1363.9 1141.1,1361.6 1136.8,1361.7 1136.3,1365.5 1133.2,1365.6 1132.7,1361.8 1128.9,1361.8 1128.4,1363.3 1125.0,1363.4 1124.5,1361.9 1120.8,1362.0 1120.3,1365.1 1118.2,1365.1 1117.7,1362.1 1112.3,1362.2 1111.8,1364.7 1109.1,1364.8 1108.6,1362.2 1104.7,1362.3 1104.2,1365.9 1101.2,1366.0 1100.7,1362.4 1094.0,1362.5 1093.5,1365.4 1091.7,1365.5 1091.2,1362.6 1087.5,1362.6 1087.0,1366.0 1084.5,1366.0 1084.0,1362.7 1077.4,1362.8 1076.9,1364.2 1073.8,1364.3 1073.3,1362.9 1066.5,1363.0 1066.0,1364.6 1063.8,1364.6 1063.3,1363.1 1059.1,1363.2 1058.6,1366.7 1055.7,1366.8 1055.2,1363.2 1050.0,1363.3 1049.5,1365.3 1047.6,1365.3 1047.1,1363.4 1039.4,1363.5 1038.9,1365.0 1035.7,1365.1 1035.2,1363.6 1032.4,1363.7 1031.9,1366.1 1029.3,1366.2 1028.8,1363.8 1026.0,1363.8 1025.5,1365.8 1022.4,1365.9 1021.9,1363.9 1014.3,1364.0 1013.8,1367.1 1011.5,1367.2 1011.0,1364.1 1005.4,1364.2 1004.9,1367.6 1002.5,1367.7 1002.0,1364.3 1000.0,1364.3 995.2,1364.8 994.7,1367.8 992.9,1368.1 992.4,1365.1 989.1,1365.4 988.6,1369.2 986.7,1369.5 986.2,1365.7 981.1,1366.2 980.6,1368.1 977.8,1368.5 977.3,1366.6 976.2,1366.7 971.6,1367.0 971.1,1369.3 969.3,1369.5 968.8,1367.2 964.3,1367.5 963.8,1371.1 961.8,1371.3 961.3,1367.7 958.1,1367.9 957.6,1370.6 955.1,1370.8 954.6,1368.1 948.7,1368.5 948.2,1370.0 946.6,1370.1 946.1,1368.6 941.9,1368.9 941.4,1371.8 937.8,1372.0 937.3,1369.1 931.3,1369.3 930.8,1372.8 929.1,1372.9 928.6,1369.4 922.0,1369.6 921.5,1372.2 918.4,1372.3 917.9,1369.8 913.4,1369.9 912.9,1373.9 910.8,1374.0 910.3,1370.0 904.8,1370.2 903.4,1370.2 902.9,1373.3 899.3,1373.4 898.8,1370.4 895.7,1370.5 895.2,1373.4 892.5,1373.5 892.0,1370.6 884.7,1370.9 884.2,1373.9 881.6,1374.1 881.1,1371.0 877.9,1371.1 877.4,1372.9 874.0,1373.1 873.5,1371.2 869.0,1371.4 867.3,1371.5 866.8,1373.3 864.8,1373.5 864.3,1371.7 861.6,1371.9 861.1,1374.6 859.0,1374.8 858.5,1372.1 854.9,1372.4 854.4,1375.1 852.5,1375.3 852.0,1372.5 845.0,1373.0 844.5,1376.7 842.6,1376.9 842.1,1373.2 835.4,1373.7 834.9,1378.4 831.7,1378.7 831.2,1374.0 827.8,1374.2 827.3,1378.1 824.7,1378.4 824.2,1374.5 816.3,1375.1 815.8,1378.6 812.8,1378.9 812.3,1375.4 804.3,1376.0 803.8,1377.7 800.3,1378.1 799.8,1376.3 795.2,1376.7 794.7,1378.2 792.1,1378.5 791.6,1377.0 785.7,1377.4 784.8,1377.5 784.3,1379.1 781.4,1379.7 780.9,1378.1 778.2,1378.5 777.7,1381.0 775.9,1381.4 775.4,1378.8 770.6,1379.5 770.1,1381.2 767.5,1381.7 767.0,1380.0 763.5,1380.5 763.0,1384.0 759.9,1384.5 759.4,1381.1 755.6,1381.6 755.1,1384.7 753.5,1385.0 753.0,1382.0 752.4,1382.1 748.0,1379.3 747.5,1382.4 745.1,1381.0 744.6,1377.9 738.9,1382.6 738.4,1384.8 735.5,1385.3 735.0,1383.1 729.5,1382.9 729.0,1387.7 727.3,1387.6 726.8,1382.7 720.2,1382.4 719.7,1387.4 716.6,1387.2 716.1,1382.2 714.3,1382.1 712.3,1382.5 711.8,1384.9 709.1,1385.6 708.6,1383.2 703.9,1384.2 703.4,1386.1 700.2,1386.9 699.7,1385.1 692.5,1386.5 692.0,1388.5 688.8,1388.3 688.3,1386.4 685.0,1385.5 684.5,1388.5 681.1,1387.6 680.6,1384.6 675.9,1385.9 675.4,1390.3 671.9,1391.5 671.4,1387.1 663.7,1389.3 663.2,1391.2 659.6,1392.4 659.1,1390.5 654.8,1391.7 652.2,1391.4 651.7,1393.1 648.3,1392.5 647.8,1390.8 642.4,1390.1 641.9,1391.9 639.3,1391.5 638.8,1389.7 635.7,1389.3 634.3,1390.7 633.8,1392.4 630.3,1395.7 629.8,1394.0 623.8,1394.2 623.3,1395.7 621.4,1395.8 620.9,1394.3 615.9,1394.5 615.4,1397.0 612.1,1397.1 611.6,1394.6 606.8,1394.8 606.3,1398.4 603.2,1398.5 602.7,1394.9 595.2,1395.2 594.0,1411.9 588.1,1411.9 583.3,1396.4 579.1,1396.6 578.6,1398.8 576.1,1398.9 575.6,1396.8 569.3,1397.1 568.8,1398.7 565.9,1398.9 565.4,1397.3 559.4,1397.6 558.9,1399.1 557.1,1399.5 556.6,1398.0 550.6,1398.8 550.1,1400.4 547.8,1400.8 547.3,1399.2 543.6,1399.7 543.1,1401.5 541.5,1401.8 541.0,1400.1 537.2,1400.6 536.7,1402.6 534.6,1403.0 534.1,1401.0 530.3,1401.5 529.8,1403.3 527.7,1403.7 527.2,1401.9 523.8,1402.4 520.7,1403.2 520.2,1406.8 517.0,1407.9 516.5,1404.3 512.3,1405.3 511.8,1407.6 509.5,1408.5 509.0,1406.2 505.5,1407.1 500.5,1409.6 500.0,1412.0 498.0,1413.5 497.5,1411.1 495.2,1412.3 494.2,1411.9 493.7,1413.3 490.3,1411.5 489.8,1410.1 486.6,1408.8 483.1,1419.2 481.8,1419.1 481.3,1421.0 479.5,1420.8 479.0,1418.9 471.1,1418.3 470.1,1418.6 469.6,1420.8 467.5,1421.7 467.0,1419.5 461.2,1421.3 460.7,1423.1 458.5,1424.1 458.0,1422.3 453.9,1423.5 451.7,1426.0 451.2,1427.5 449.1,1431.0 448.6,1429.4 447.0,1431.2 444.5,1429.7 444.0,1431.8 441.6,1429.8 441.1,1427.7 438.4,1426.0 436.6,1431.2 435.0,1431.3 434.5,1433.5 432.6,1433.7 432.1,1431.5 425.3,1431.9 424.8,1434.0 421.9,1434.2 421.4,1432.1 416.8,1439.0 414.8,1438.3 414.3,1440.0 411.8,1438.8 411.3,1437.2 409.1,1436.4 404.2,1446.1 403.7,1447.6 401.9,1448.7 401.4,1447.2 397.2,1448.1 396.7,1450.4 393.2,1451.4 392.7,1449.1 391.9,1449.3 388.0,1458.2 387.5,1460.9 385.5,1465.0 385.0,1462.3 377.6,1466.5 377.1,1467.9 373.9,1470.3 373.4,1468.8 372.9,1469.1 368.5,1470.0 368.0,1471.7 365.2,1472.4 364.7,1470.7 364.3,1470.8 357.2,1480.4 356.7,1482.5 353.5,1484.1 353.0,1482.0 350.5,1482.9 349.0,1489.8 340.2,1489.8 339.4,1492.5 336.8,1493.2 336.0,1501.0 327.9,1501.0 327.2,1500.0 325.3,1500.0 324.9,1506.0 324.3,1522.5 315.0,1522.5 314.4,1509.0 312.4,1509.0 312.0,1512.0 311.4,1534.5 304.8,1534.5 304.2,1516.0 302.2,1516.0 301.8,1530.0 301.2,1553.5 294.4,1553.5 293.8,1536.0 291.3,1536.0 290.9,1556.0 290.2,1572.4 286.5,1572.4 285.0,1567.0 281.2,1565.0 280.6,1553.0 278.7,1553.0 278.2,1563.8 272.8,1563.8 272.2,1548.3 269.6,1479.4 267.0,1424.3 264.4,1393.3 262.7,1367.5 259.3,1348.6 255.8,1331.3 252.4,1326.2 240.0,1329.6" fill="#0072BD" filter="url(#soft2)"/>
<g class="tl" text-anchor="middle" filter="url(#softt)">
<text x="239.9" y="1730">0</text>
<text x="438.8" y="1730">20</text>
<text x="637.7" y="1730">40</text>
<text x="836.5" y="1730">60</text>
<text x="1035.4" y="1730">80</text>
<text x="1234.3" y="1730">100</text>
<text x="1433.2" y="1730">120</text>
<text x="1632.1" y="1730">140</text>
<text x="1830.9" y="1730">160</text>
<text x="2028.3" y="1730">180</text>
<text x="2225.7" y="1730">200</text>
</g>
<g class="tl" text-anchor="end" filter="url(#softt)">
<text class="ty" x="224.0" y="82.0">60</text>
<text class="ty" x="224.0" y="228.7">50</text>
<text class="ty" x="224.0" y="370.5">40</text>
<text class="ty" x="224.0" y="517.3">30</text>
<text class="ty" x="224.0" y="664.0">20</text>
<text class="ty" x="224.0" y="806.0">10</text>
<text class="ty" x="224.0" y="952.5">0</text>
<text><tspan class="mn" font-size="63" text-anchor="middle" x="137.5" y="1106.9">−</tspan><tspan class="ty" text-anchor="end" x="224.0" y="1096.5">10</tspan></text>
<text><tspan class="mn" font-size="59" text-anchor="middle" x="133.3" y="1246.0">−</tspan><tspan class="ty" text-anchor="end" x="224.0" y="1242.5">20</tspan></text>
<text><tspan class="mn" font-size="60" text-anchor="middle" x="136.3" y="1393.8">−</tspan><tspan class="ty" text-anchor="end" x="224.0" y="1390.0">30</tspan></text>
<text><tspan class="mn" font-size="58" text-anchor="middle" x="135.8" y="1540.4">−</tspan><tspan class="ty" text-anchor="end" x="224.0" y="1534.0">40</tspan></text>
<text><tspan class="mn" font-size="65" text-anchor="middle" x="139.1" y="1681.4">−</tspan><tspan class="ty" text-anchor="end" x="224.0" y="1677.0">50</tspan></text>
</g>
<rect x="1313.7" y="88.6" width="819.2" height="330.4" fill="#fff"/>
<g filter="url(#soft)">
<g stroke="#e2e2e2" stroke-width="2.8" fill="none">
<line x1="1516.7" y1="88.6" x2="1516.7" y2="419.0"/>
<line x1="1722.4" y1="88.6" x2="1722.4" y2="419.0"/>
<line x1="1928.1" y1="88.6" x2="1928.1" y2="419.0"/>
<line x1="1313.7" y1="142.4" x2="2132.9" y2="142.4"/>
<line x1="1313.7" y1="252.0" x2="2132.9" y2="252.0"/>
<line x1="1313.7" y1="361.6" x2="2132.9" y2="361.6"/>
</g>
</g>
<g filter="url(#soft)">
<rect x="1313.7" y="88.6" width="819.2" height="330.4" fill="none" stroke="#c4c4c4" stroke-width="6.4"/>
<rect x="1313.7" y="88.6" width="819.2" height="330.4" fill="none" stroke="#6e6e6e" stroke-width="3.4"/>
<g stroke="#505050" stroke-width="3.0" fill="none">
<line x1="1516.7" y1="419.0" x2="1516.7" y2="411.0"/>
<line x1="1516.7" y1="88.6" x2="1516.7" y2="96.6"/>
<line x1="1722.4" y1="419.0" x2="1722.4" y2="411.0"/>
<line x1="1722.4" y1="88.6" x2="1722.4" y2="96.6"/>
<line x1="1928.1" y1="419.0" x2="1928.1" y2="411.0"/>
<line x1="1928.1" y1="88.6" x2="1928.1" y2="96.6"/>
<line x1="1313.7" y1="142.4" x2="1321.7" y2="142.4"/>
<line x1="2132.9" y1="142.4" x2="2124.9" y2="142.4"/>
<line x1="1313.7" y1="252.0" x2="1321.7" y2="252.0"/>
<line x1="2132.9" y1="252.0" x2="2124.9" y2="252.0"/>
<line x1="1313.7" y1="361.6" x2="1321.7" y2="361.6"/>
<line x1="2132.9" y1="361.6" x2="2124.9" y2="361.6"/>
</g>
</g>
<polyline points="1312.7,179.5 1314.2,171.3 1315.7,163.4 1317.2,155.9 1318.7,148.6 1320.2,141.8 1321.7,135.4 1323.2,129.4 1324.7,123.9 1326.2,118.8 1327.7,114.2 1329.2,110.2 1330.7,106.6 1332.2,103.6 1333.7,101.2 1335.2,99.3 1336.7,97.9 1338.2,97.1 1339.7,96.9 1341.2,97.3 1342.7,98.2 1344.2,99.7 1345.7,101.8 1347.2,104.4 1348.7,107.5 1350.2,111.2 1351.7,115.4 1353.2,120.1 1354.7,125.3 1356.2,131.0 1357.7,137.1 1359.2,143.6 1360.7,150.5 1362.2,157.8 1363.7,165.5 1365.2,173.5 1366.7,181.7 1368.2,190.3 1369.7,199.0 1371.2,208.0 1372.7,217.1 1374.2,226.4 1375.7,235.8 1377.2,245.2 1378.7,254.7 1380.2,264.1 1381.7,273.6 1383.2,282.9 1384.7,292.2 1386.2,301.3 1387.7,310.2 1389.2,319.0 1390.7,327.5 1392.2,335.7 1393.7,343.7 1395.2,351.3 1396.7,358.6 1398.2,365.5 1399.7,371.9 1401.2,378.0 1402.7,383.6 1404.2,388.8 1405.7,393.4 1407.2,397.6 1408.7,401.2 1410.2,404.3 1411.7,406.9 1413.2,408.9 1414.7,410.3 1416.2,411.2 1417.7,411.5 1419.2,411.2 1420.7,410.4 1422.2,409.0 1423.7,407.0 1425.2,404.5 1426.7,401.4 1428.2,397.8 1429.7,393.7 1431.2,389.1 1432.7,384.0 1434.2,378.4 1435.7,372.4 1437.2,365.9 1438.7,359.0 1440.2,351.8 1441.7,344.2 1443.2,336.3 1444.7,328.0 1446.2,319.6 1447.7,310.8 1449.2,301.9 1450.7,292.8 1452.2,283.5 1453.7,274.2 1455.2,264.8 1456.7,255.3 1458.2,245.8 1459.7,236.4 1461.2,227.0 1462.7,217.7 1464.2,208.6 1465.7,199.6 1467.2,190.8 1468.7,182.3 1470.2,174.0 1471.7,166.0 1473.2,158.3 1474.7,151.0 1476.2,144.0 1477.7,137.5 1479.2,131.4 1480.7,125.7 1482.2,120.4 1483.7,115.7 1485.2,111.5 1486.7,107.8 1488.2,104.6 1489.7,101.9 1491.2,99.8 1492.7,98.3 1494.2,97.3 1495.7,96.9 1497.2,97.1 1498.7,97.8 1500.2,99.1 1501.7,101.0 1503.2,103.4 1504.7,106.4 1506.2,109.9 1507.7,114.0 1509.2,118.5 1510.7,123.5 1512.2,129.0 1513.7,135.0 1515.2,141.4 1516.7,148.2 1518.2,155.4 1519.7,162.9 1521.2,170.8 1522.7,178.9 1524.2,187.4 1525.7,196.1 1527.2,205.0 1528.7,214.1 1530.2,223.3 1531.7,232.6 1533.2,242.0 1534.7,251.5 1536.2,261.0 1537.7,270.4 1539.2,279.8 1540.7,289.1 1542.2,298.3 1543.7,307.3 1545.2,316.1 1546.7,324.7 1548.2,333.0 1549.7,341.1 1551.2,348.8 1552.7,356.2 1554.2,363.2 1555.7,369.8 1557.2,376.0 1558.7,381.8 1560.2,387.1 1561.7,391.9 1563.2,396.2 1564.7,400.0 1566.2,403.3 1567.7,406.1 1569.2,408.2 1570.7,409.9 1572.2,410.9 1573.7,411.4 1575.2,411.4 1576.7,410.7 1578.2,409.5 1579.7,407.7 1581.2,405.4 1582.7,402.5 1584.2,399.1 1585.7,395.1 1587.2,390.7 1588.7,385.7 1590.2,380.3 1591.7,374.4 1593.2,368.1 1594.7,361.4 1596.2,354.2 1597.7,346.8 1599.2,338.9 1600.7,330.8 1602.2,322.4 1603.7,313.8 1605.2,304.9 1606.7,295.8 1608.2,286.6 1609.7,277.3 1611.2,267.9 1612.7,258.5 1614.2,249.0 1615.7,239.5 1617.2,230.1 1618.7,220.8 1620.2,211.6 1621.7,202.6 1623.2,193.7 1624.7,185.1 1626.2,176.7 1627.7,168.6 1629.2,160.9 1630.7,153.4 1632.2,146.3 1633.7,139.6 1635.2,133.4 1636.7,127.5 1638.2,122.1 1639.7,117.2 1641.2,112.8 1642.7,108.9 1644.2,105.6 1645.7,102.7 1647.2,100.5 1648.7,98.7 1650.2,97.6 1651.7,97.0 1653.2,97.0 1654.7,97.5 1656.2,98.6 1657.7,100.3 1659.2,102.6 1660.7,105.4 1662.2,108.7 1663.7,112.5 1665.2,116.9 1666.7,121.8 1668.2,127.1 1669.7,132.9 1671.2,139.2 1672.7,145.9 1674.2,152.9 1675.7,160.3 1677.2,168.1 1678.7,176.2 1680.2,184.6 1681.7,193.2 1683.2,202.0 1684.7,211.0 1686.2,220.2 1687.7,229.5 1689.2,238.9 1690.7,248.4 1692.2,257.8 1693.7,267.3 1695.2,276.7 1696.7,286.0 1698.2,295.2 1699.7,304.3 1701.2,313.2 1702.7,321.8 1704.2,330.3 1705.7,338.4 1707.2,346.3 1708.7,353.8 1710.2,360.9 1711.7,367.7 1713.2,374.0 1714.7,379.9 1716.2,385.4 1717.7,390.4 1719.2,394.9 1720.7,398.8 1722.2,402.3 1723.7,405.2 1725.2,407.6 1726.7,409.4 1728.2,410.6 1729.7,411.3 1731.2,411.4 1732.7,411.0 1734.2,410.0 1735.7,408.4 1737.2,406.2 1738.7,403.5 1740.2,400.3 1741.7,396.5 1743.2,392.2 1744.7,387.4 1746.2,382.2 1747.7,376.4 1749.2,370.3 1750.7,363.7 1752.2,356.7 1753.7,349.3 1755.2,341.6 1756.7,333.6 1758.2,325.2 1759.7,316.7 1761.2,307.9 1762.7,298.9 1764.2,289.7 1765.7,280.4 1767.2,271.1 1768.7,261.6 1770.2,252.1 1771.7,242.7 1773.2,233.3 1774.7,223.9 1776.2,214.7 1777.7,205.6 1779.2,196.7 1780.7,188.0 1782.2,179.5 1783.7,171.3 1785.2,163.4 1786.7,155.9 1788.2,148.6 1789.7,141.8 1791.2,135.4 1792.7,129.4 1794.2,123.9 1795.7,118.8 1797.2,114.2 1798.7,110.2 1800.2,106.6 1801.7,103.6 1803.2,101.2 1804.7,99.3 1806.2,97.9 1807.7,97.1 1809.2,96.9 1810.7,97.3 1812.2,98.2 1813.7,99.7 1815.2,101.8 1816.7,104.4 1818.2,107.5 1819.7,111.2 1821.2,115.4 1822.7,120.1 1824.2,125.3 1825.7,131.0 1827.2,137.1 1828.7,143.6 1830.2,150.5 1831.7,157.8 1833.2,165.5 1834.7,173.5 1836.2,181.7 1837.7,190.3 1839.2,199.0 1840.7,208.0 1842.2,217.1 1843.7,226.4 1845.2,235.8 1846.7,245.2 1848.2,254.7 1849.7,264.1 1851.2,273.6 1852.7,282.9 1854.2,292.2 1855.7,301.3 1857.2,310.2 1858.7,319.0 1860.2,327.5 1861.7,335.7 1863.2,343.7 1864.7,351.3 1866.2,358.6 1867.7,365.5 1869.2,371.9 1870.7,378.0 1872.2,383.6 1873.7,388.8 1875.2,393.4 1876.7,397.6 1878.2,401.2 1879.7,404.3 1881.2,406.9 1882.7,408.9 1884.2,410.3 1885.7,411.2 1887.2,411.5 1888.7,411.2 1890.2,410.4 1891.7,409.0 1893.2,407.0 1894.7,404.5 1896.2,401.4 1897.7,397.8 1899.2,393.7 1900.7,389.1 1902.2,384.0 1903.7,378.4 1905.2,372.4 1906.7,365.9 1908.2,359.0 1909.7,351.8 1911.2,344.2 1912.7,336.3 1914.2,328.0 1915.7,319.6 1917.2,310.8 1918.7,301.9 1920.2,292.8 1921.7,283.5 1923.2,274.2 1924.7,264.8 1926.2,255.3 1927.7,245.8 1929.2,236.4 1930.7,227.0 1932.2,217.7 1933.7,208.6 1935.2,199.6 1936.7,190.8 1938.2,182.3 1939.7,174.0 1941.2,166.0 1942.7,158.3 1944.2,151.0 1945.7,144.0 1947.2,137.5 1948.7,131.4 1950.2,125.7 1951.7,120.4 1953.2,115.7 1954.7,111.5 1956.2,107.8 1957.7,104.6 1959.2,101.9 1960.7,99.8 1962.2,98.3 1963.7,97.3 1965.2,96.9 1966.7,97.1 1968.2,97.8 1969.7,99.1 1971.2,101.0 1972.7,103.4 1974.2,106.4 1975.7,109.9 1977.2,114.0 1978.7,118.5 1980.2,123.5 1981.7,129.0 1983.2,135.0 1984.7,141.4 1986.2,148.2 1987.7,155.4 1989.2,162.9 1990.7,170.8 1992.2,178.9 1993.7,187.4 1995.2,196.1 1996.7,205.0 1998.2,214.1 1999.7,223.3 2001.2,232.6 2002.7,242.0 2004.2,251.5 2005.7,261.0 2007.2,270.4 2008.7,279.8 2010.2,289.1 2011.7,298.3 2013.2,307.3 2014.7,316.1 2016.2,324.7 2017.7,333.0 2019.2,341.1 2020.7,348.8 2022.2,356.2 2023.7,363.2 2025.2,369.8 2026.7,376.0 2028.2,381.8 2029.7,387.1 2031.2,391.9 2032.7,396.2 2034.2,400.0 2035.7,403.3 2037.2,406.1 2038.7,408.2 2040.2,409.9 2041.7,410.9 2043.2,411.4 2044.7,411.4 2046.2,410.7 2047.7,409.5 2049.2,407.7 2050.7,405.4 2052.2,402.5 2053.7,399.1 2055.2,395.1 2056.7,390.7 2058.2,385.7 2059.7,380.3 2061.2,374.4 2062.7,368.1 2064.2,361.4 2065.7,354.2 2067.2,346.8 2068.7,338.9 2070.2,330.8 2071.7,322.4 2073.2,313.8 2074.7,304.9 2076.2,295.8 2077.7,286.6 2079.2,277.3 2080.7,267.9 2082.2,258.5 2083.7,249.0 2085.2,239.5 2086.7,230.1 2088.2,220.8 2089.7,211.6 2091.2,202.6 2092.7,193.7 2094.2,185.1 2095.7,176.7 2097.2,168.6 2098.7,160.9 2100.2,153.4 2101.7,146.3 2103.2,139.6 2104.7,133.4 2106.2,127.5 2107.7,122.1 2109.2,117.2 2110.7,112.8 2112.2,108.9 2113.7,105.6 2115.2,102.7 2116.7,100.5 2118.2,98.7 2119.7,97.6 2121.2,97.0 2122.7,97.0 2124.2,97.5 2125.7,98.6 2127.2,100.3 2128.7,102.6 2130.2,105.4 2131.7,108.7 2133.2,112.5" fill="none" stroke="#0072BD" stroke-width="7.4" stroke-linejoin="round" stroke-linecap="round" filter="url(#soft2)"/>
<g class="il" text-anchor="middle" filter="url(#softt)">
<text x="1311.0" y="485.5">170</text>
<text x="1516.7" y="485.5">170.1</text>
<text x="1722.4" y="485.5">170.2</text>
<text x="1928.1" y="485.5">170.3</text>
<text x="2133.8" y="485.5">170.4</text>
</g>
<g class="il" text-anchor="end" filter="url(#softt)">
<text x="1293.5" y="161.5">20</text>
<text x="1293.5" y="271">0</text>
<text><tspan class="mn" font-size="38" text-anchor="middle" x="1224.6" y="382.2" style="stroke-width:1.9px">−</tspan><tspan text-anchor="end" x="1293.5" y="385">20</tspan></text>
</g>
<g filter="url(#soft2)">
<g stroke="#FF0000" fill="none" stroke-linecap="butt">
<line x1="1919.05" y1="497.3" x2="1919.05" y2="1375.7" stroke-width="5.8"/>
<line x1="1933.0" y1="497.3" x2="1933.0" y2="1375.7" stroke-width="7.6"/>
<line x1="1916.2" y1="500.6" x2="1936.8" y2="500.6" stroke-width="6.6"/>
<line x1="1916.2" y1="1372.4" x2="1936.8" y2="1372.4" stroke-width="6.6"/>
</g>
<line x1="1919.4" y1="498.6" x2="1863" y2="436.8" stroke="#FF0000" stroke-width="7.8" stroke-linecap="butt"/>
<polygon points="1843.4,415.4 1878.0,431.4 1866.5,437.0 1860.8,442.6 1858.6,451.8" fill="#FF0000"/>
</g>
<text class="ax" y="1861"><tspan x="1027.0" textLength="225.2" lengthAdjust="spacingAndGlyphs">Time</tspan> <tspan x="1275.0" textLength="106.0" lengthAdjust="spacingAndGlyphs">(s)</tspan></text>
<text class="ax" transform="translate(96.7,0) rotate(-90)" y="0"><tspan x="-1083.0" textLength="349.0" lengthAdjust="spacingAndGlyphs">Current</tspan> <tspan x="-711.0" textLength="138.7" lengthAdjust="spacingAndGlyphs">(A)</tspan></text>
</svg></body></html>
